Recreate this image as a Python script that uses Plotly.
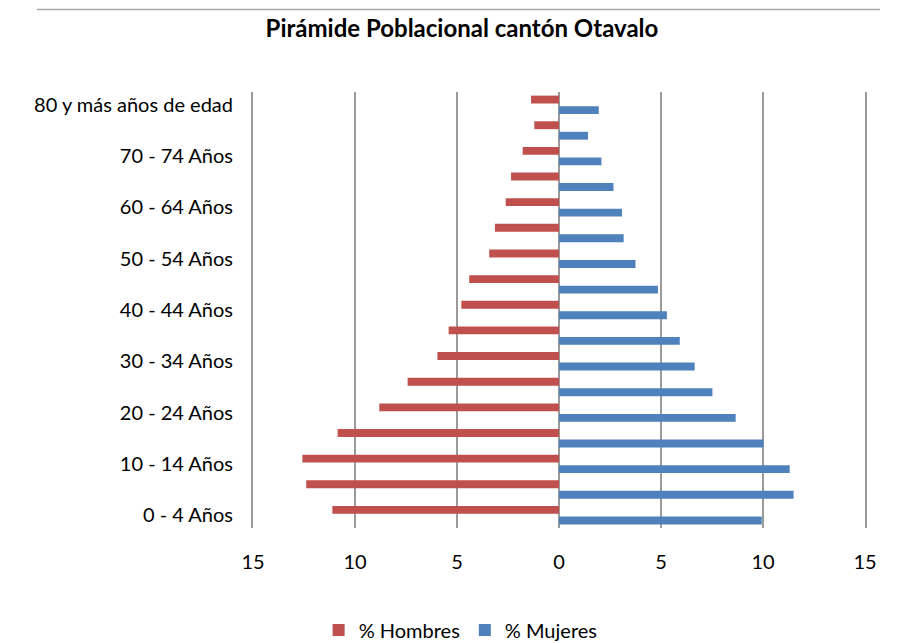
import plotly.graph_objects as go

# Age groups (bottom to top)
categorias = [
    "0 - 4 Años", "5 - 9 Años", "10 - 14 Años", "15 - 19 Años",
    "20 - 24 Años", "25 - 29 Años", "30 - 34 Años", "35 - 39 Años",
    "40 - 44 Años", "45 - 49 Años", "50 - 54 Años", "55 - 59 Años",
    "60 - 64 Años", "65 - 69 Años", "70 - 74 Años", "75 - 79 Años",
    "80 y más años de edad",
]
hombres = [11.11, 12.39, 12.58, 10.85, 8.81, 7.42, 5.96, 5.41, 4.79,
           4.40, 3.42, 3.14, 2.61, 2.35, 1.78, 1.21, 1.37]
mujeres = [9.94, 11.50, 11.31, 10.02, 8.66, 7.52, 6.65, 5.92, 5.29,
           4.85, 3.75, 3.17, 3.09, 2.67, 2.08, 1.42, 1.95]

x_ticks = [-15, -10, -5, 0, 5, 10, 15]
x_tick_text = ["15", "10", "5", "0", "5", "10", "15"]
y_ticks = categorias[::2]

FONT = "Lato, Liberation Sans, sans-serif"
RED = "#C0504D"
BLUE = "#4F81BD"
GRID = "#9a9a9a"

fig = go.Figure()
fig.add_trace(go.Bar(
    y=categorias, x=mujeres, orientation="h", name="% Mujeres",
    marker=dict(color=BLUE, line=dict(width=0)),
))
fig.add_trace(go.Bar(
    y=categorias, x=[-v for v in hombres], orientation="h", name="% Hombres",
    marker=dict(color=RED, line=dict(width=0)),
    customdata=hombres, hovertemplate="%{y}: %{customdata}<extra>% Hombres</extra>",
))

# page body has an 8px margin, so the figure is sized to fit the window
fig.update_layout(
    width=891, height=635,
    margin=dict(l=245, r=34, t=84, b=115, autoexpand=False),
    paper_bgcolor="white", plot_bgcolor="white",
    barmode="group", bargap=0.18, bargroupgap=0.25,
    font=dict(family=FONT, size=20, color="black"),
    title=dict(
        text="<b>Pirámide Poblacional cantón Otavalo</b>",
        font=dict(family=FONT, size=24, color="black"),
        x=0.5095, xref="container", xanchor="center",
        y=0.967, yref="container", yanchor="middle",
    ),
    showlegend=True,
    legend=dict(
        orientation="h", traceorder="reversed",
        xref="container", yref="container",
        x=0.508, xanchor="center", y=0.0205, yanchor="middle",
        font=dict(family=FONT, size=20, color="black"),
        bgcolor="rgba(0,0,0,0)",
    ),
    xaxis=dict(
        range=[-15, 15], tickvals=x_ticks, ticktext=x_tick_text,
        showgrid=True, gridcolor=GRID, gridwidth=2,
        zeroline=True, zerolinecolor=GRID, zerolinewidth=2,
        showline=False, ticks="", ticklabelstandoff=20, automargin=False,
        tickfont=dict(family=FONT, size=20, color="black"),
    ),
    yaxis=dict(
        type="category", categoryorder="array", categoryarray=categorias,
        tickvals=y_ticks, ticktext=y_ticks,
        showgrid=False, zeroline=False,
        showline=True, mirror=True, linecolor=GRID, linewidth=2,
        ticks="", ticklabelstandoff=14, automargin=False,
        tickfont=dict(family=FONT, size=20, color="black"),
    ),
    shapes=[dict(
        type="line", xref="paper", yref="paper",
        x0=-0.353, x1=1.0245, y0=1.189, y1=1.189,
        line=dict(color="#a6a6a6", width=1.5),
    )],
)

fig.write_html("out.html")
